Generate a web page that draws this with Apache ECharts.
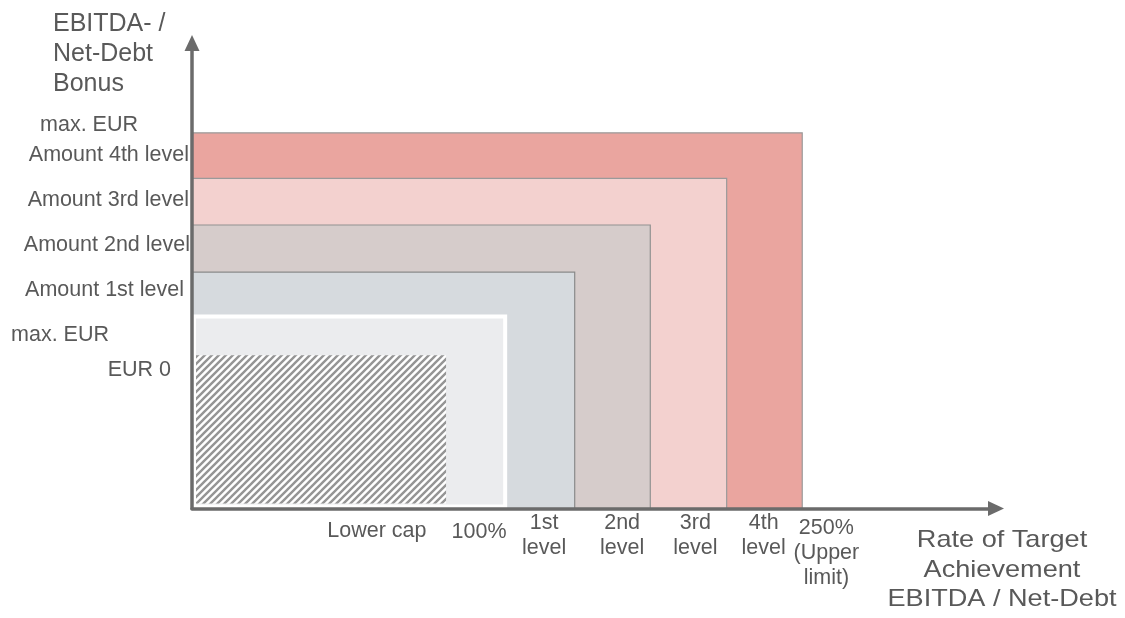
<!DOCTYPE html>
<html>
<head>
<meta charset="utf-8">
<script src="https://cdn.jsdelivr.net/npm/echarts@6/dist/echarts.min.js"></script>
<style>
  html, body { margin: 0; padding: 0; background: #ffffff; }
  #chart { width: 1125px; height: 618px; }
</style>
</head>
<body>
<div id="chart"></div>
<script>
// Bonus tiers, outermost first: reach along the achievement scale and height on the bonus scale
const tierNames  = ['4th level', '3rd level', '2nd level', '1st level', '100%', 'Lower cap'];
const tierReach  = [75.9, 66.5, 57.0, 47.6, 39.2, 31.6];
const tierAmount = [80.7, 70.9, 60.9, 50.8, 41.7, 32.9];

// Labels along the achievement axis
const xTickValues = [23.0, 35.7, 43.8, 53.5, 62.6, 71.1, 78.9];
const xTickLabels = ['Lower cap', '100%', '1st\nlevel', '2nd\nlevel', '3rd\nlevel', '4th\nlevel', '250%\n(Upper\nlimit)'];

// Labels along the bonus axis
const yTickValues = [82.4, 75.9, 66.2, 56.6, 46.9, 37.2, 29.7];
const yTickLabels = ['max. EUR', 'Amount 4th level', 'Amount 3rd level', 'Amount 2nd level', 'Amount 1st level', 'max. EUR', 'EUR 0'];

// Axis titles
const yTitle = 'EBITDA- /\nNet-Debt\nBonus';
const xTitle = 'Rate of Target\nAchievement\nEBITDA / Net-Debt';

// ---- styling ----
const FONT = '"Liberation Sans", Arial, sans-serif';
const TEXT = '#595959';
const AXIS = '#6b6b6b';
const LABEL_SIZE = 21.5;

// diagonal hatch tile for the area below the lower cap
function hatchTile() {
  const s = 7;
  const c = document.createElement('canvas');
  c.width = s; c.height = s;
  const g = c.getContext('2d');
  g.fillStyle = '#ffffff';
  g.fillRect(0, 0, s, s);
  g.strokeStyle = '#959595';
  g.lineWidth = 2.4;
  g.beginPath();
  g.moveTo(-1, s + 1); g.lineTo(s + 1, -1);
  g.moveTo(-2, 2); g.lineTo(2, -2);
  g.moveTo(s - 2, s + 2); g.lineTo(s + 2, s - 2);
  g.stroke();
  return c;
}

const tierStyles = [
  { fill: '#eaa59f', stroke: '#9a9a9a', lineWidth: 1.2, inset: 0, left: 0, bottom: 0 },
  { fill: '#f3d1cf', stroke: '#9a9a9a', lineWidth: 1.2, inset: 0, left: 0, bottom: 0 },
  { fill: '#d6cccb', stroke: '#929292', lineWidth: 1.2, inset: 0, left: 0, bottom: 0 },
  { fill: '#d6dade', stroke: '#8a8a8a', lineWidth: 1.2, inset: 0, left: 0, bottom: 0 },
  { fill: '#ebecee', stroke: '#ffffff', lineWidth: 4, inset: 2, left: 0, bottom: 0 },
  { fill: { image: hatchTile(), repeat: 'repeat' }, stroke: null, lineWidth: 0, inset: 0, left: 4, bottom: 5 }
];

// extra space above some achievement labels
const xLabelDrop = [8, 9, 0, 0, 0, 0, 5];
// extra right padding of the bonus labels
const yLabelPad = [52, 1, 1, 0, 6, 81, 19];

function findIdx(arr, v) {
  return arr.findIndex(a => Math.abs(a - v) < 1e-6);
}

const xRich = { t: { fontSize: LABEL_SIZE, fontFamily: FONT, color: TEXT, lineHeight: 25 } };
xLabelDrop.forEach(d => {
  if (d > 0) xRich['g' + d] = { fontSize: 1, lineHeight: d, color: 'rgba(0,0,0,0)' };
});

const yRich = {};
yLabelPad.forEach((p, i) => {
  yRich['r' + i] = { fontSize: LABEL_SIZE, fontFamily: FONT, color: TEXT, padding: [0, p, 0, 0] };
});

const chart = echarts.init(document.getElementById('chart'), null, { renderer: 'canvas' });

chart.setOption({
  animation: false,
  backgroundColor: '#ffffff',
  grid: { left: 192, right: 129, top: 43, bottom: 109.5, containLabel: false },
  xAxis: {
    type: 'value', min: 0, max: 100, z: 10,
    axisLine: {
      show: true, symbol: ['none', 'triangle'], symbolSize: [15, 16],
      lineStyle: { color: AXIS, width: 3.5 }
    },
    axisTick: { show: false },
    splitLine: { show: false },
    axisLabel: {
      customValues: xTickValues,
      margin: 2,
      align: 'center',
      fontSize: LABEL_SIZE, fontFamily: FONT, color: TEXT, lineHeight: 25,
      rich: xRich,
      formatter: function (value) {
        const i = findIdx(xTickValues, value);
        if (i < 0) return '';
        const lines = xTickLabels[i].split('\n').map(ln => '{t|' + ln + '}');
        if (xLabelDrop[i] > 0) lines.unshift('{g' + xLabelDrop[i] + '| }');
        return lines.join('\n');
      }
    }
  },
  yAxis: {
    type: 'value', min: 0, max: 100, z: 10,
    axisLine: {
      show: true, symbol: ['none', 'triangle'], symbolSize: [15, 16],
      lineStyle: { color: AXIS, width: 3.5 }
    },
    axisTick: { show: false },
    splitLine: { show: false },
    axisLabel: {
      customValues: yTickValues,
      margin: 2,
      fontSize: LABEL_SIZE, fontFamily: FONT, color: TEXT,
      rich: yRich,
      formatter: function (value) {
        const i = findIdx(yTickValues, value);
        if (i < 0) return '';
        return '{r' + i + '|' + yTickLabels[i] + '}';
      }
    }
  },
  graphic: [
    {
      type: 'text', x: 53, y: 9,
      style: { text: yTitle, fontSize: 25, fontFamily: FONT, fill: TEXT, lineHeight: 30, align: 'left', verticalAlign: 'top' }
    },
    {
      type: 'text', x: 1002, y: 526, scaleX: 1.13,
      style: { text: xTitle, fontSize: 24, fontFamily: FONT, fill: TEXT, lineHeight: 29.5, align: 'center', verticalAlign: 'top' }
    }
  ],
  series: [{
    type: 'custom',
    name: 'Bonus tiers',
    z: 2,
    data: tierNames.map((n, i) => ({ name: n, value: [tierReach[i], tierAmount[i]] })),
    renderItem: function (params, api) {
      const i = params.dataIndex;
      const st = tierStyles[i];
      const p0 = api.coord([0, 0]);
      const p1 = api.coord([api.value(0), api.value(1)]);
      const x = p0[0] + st.inset + st.left;
      const y = p1[1] + st.inset;
      const w = p1[0] - p0[0] - 2 * st.inset - st.left;
      const h = p0[1] - p1[1] - 2 * st.inset - st.bottom;
      return {
        type: 'rect',
        shape: { x: x, y: y, width: w, height: h },
        style: { fill: st.fill, stroke: st.stroke, lineWidth: st.lineWidth }
      };
    }
  }]
});
</script>
</body>
</html>
